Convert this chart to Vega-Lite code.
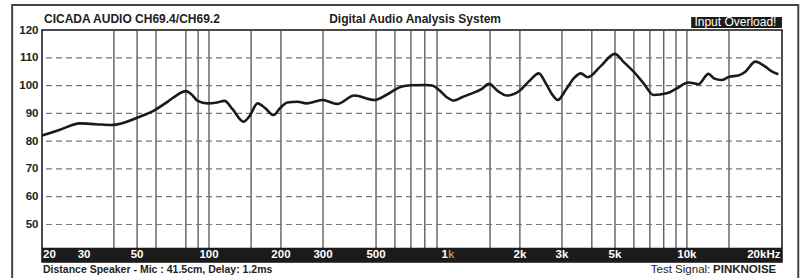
{
  "$schema": "https://vega.github.io/schema/vega-lite/v6.json",
  "width": 740,
  "height": 232,
  "autosize": {"type": "none"},
  "padding": {"left": 42, "top": 30, "right": 22, "bottom": 16},
  "background": "white",
  "config": {
    "view": {"stroke": "#111", "strokeWidth": 1.5},
    "font": "Liberation Sans",
    "axisY": {"labelOverlap": false, "title": null, "grid": false, "domain": false, "ticks": false,
      "labelFont": "Liberation Sans", "labelFontWeight": "bold", "labelFontSize": 11.5, "labelColor": "#222", "labelPadding": 4}
  },
  "datasets": {
    "one": [{}],
    "curve": [
      {"f": 20, "db": 82}, {"f": 23.8, "db": 84.1}, {"f": 28.8, "db": 86.4}, {"f": 33.6, "db": 86.1},
      {"f": 39.2, "db": 85.8}, {"f": 51.3, "db": 88.8}, {"f": 59.3, "db": 91.2}, {"f": 67.2, "db": 94.2},
      {"f": 73.2, "db": 96.5}, {"f": 79.9, "db": 98.0}, {"f": 84.6, "db": 96.8}, {"f": 89.6, "db": 94.5},
      {"f": 98.7, "db": 93.6}, {"f": 106.6, "db": 93.8}, {"f": 116.2, "db": 94.5}, {"f": 125.5, "db": 91.5},
      {"f": 139.5, "db": 87}, {"f": 147.8, "db": 89}, {"f": 159.6, "db": 93.6}, {"f": 172.3, "db": 91.8},
      {"f": 186.1, "db": 89.4}, {"f": 199, "db": 92}, {"f": 212.8, "db": 93.9}, {"f": 234.4, "db": 94.2},
      {"f": 255.6, "db": 93.6}, {"f": 298.2, "db": 94.8}, {"f": 344.4, "db": 93.4}, {"f": 405.5, "db": 96.4},
      {"f": 491.5, "db": 94.8}, {"f": 551.4, "db": 96.6}, {"f": 637, "db": 99.6}, {"f": 701.2, "db": 100.1},
      {"f": 810.2, "db": 100.2}, {"f": 858, "db": 100.0}, {"f": 918, "db": 98.4}, {"f": 981.8, "db": 96.0},
      {"f": 1061, "db": 94.6}, {"f": 1145, "db": 95.8}, {"f": 1261, "db": 97.2}, {"f": 1375, "db": 98.6},
      {"f": 1485, "db": 100.6}, {"f": 1619, "db": 98.0}, {"f": 1765, "db": 96.4}, {"f": 2000, "db": 98.2},
      {"f": 2180, "db": 101.5}, {"f": 2400, "db": 104.4}, {"f": 2568, "db": 100.8}, {"f": 2720, "db": 97},
      {"f": 2882, "db": 94.8}, {"f": 3112, "db": 98.5}, {"f": 3362, "db": 102.6}, {"f": 3596, "db": 104.4},
      {"f": 3844, "db": 103}, {"f": 4358, "db": 107}, {"f": 4986, "db": 111.4}, {"f": 5436, "db": 108.5},
      {"f": 5984, "db": 105}, {"f": 6588, "db": 100.8}, {"f": 7252, "db": 96.6}, {"f": 8220, "db": 97.2},
      {"f": 8962, "db": 98.7}, {"f": 10152, "db": 101.1}, {"f": 11180, "db": 100.5}, {"f": 12306, "db": 104.2},
      {"f": 13038, "db": 102.5}, {"f": 13946, "db": 102}, {"f": 15060, "db": 103.2}, {"f": 16424, "db": 103.6},
      {"f": 17566, "db": 105}, {"f": 19340, "db": 108.6}, {"f": 21288, "db": 106.8}, {"f": 22554, "db": 105.2},
      {"f": 24126, "db": 104.1}
    ],
    "vlines": [
      {"f": 40}, {"f": 50}, {"f": 60}, {"f": 80}, {"f": 90}, {"f": 100}, {"f": 150}, {"f": 200},
      {"f": 300}, {"f": 500}, {"f": 600}, {"f": 700}, {"f": 800}, {"f": 900}, {"f": 1500}, {"f": 2000},
      {"f": 3000}, {"f": 4000}, {"f": 5000}, {"f": 6000}, {"f": 7000}, {"f": 8000}, {"f": 9000},
      {"f": 10000}, {"f": 15000}
    ],
    "hlines": [{"db": 50}, {"db": 60}, {"db": 70}, {"db": 80}, {"db": 90}, {"db": 100}, {"db": 110}],
    "flabels": [
      {"f": 20, "t": "20"}, {"f": 30, "t": "30"}, {"f": 50, "t": "50"}, {"f": 100, "t": "100"},
      {"f": 200, "t": "200"}, {"f": 300, "t": "300"}, {"f": 500, "t": "500"}, {"f": 2000, "t": "2k"},
      {"f": 3000, "t": "3k"}, {"f": 5000, "t": "5k"}, {"f": 10000, "t": "10k"}, {"f": 20000, "t": "20kHz"}
    ]
  },
  "layer": [
    {
      "data": {"name": "vlines"},
      "mark": {"type": "rule", "color": "#444", "strokeWidth": 1.2},
      "encoding": {
        "x": {"field": "f", "type": "quantitative", "scale": {"type": "log", "domain": [20, 25000], "nice": false}, "axis": null}
      }
    },
    {
      "data": {"name": "hlines"},
      "mark": {"type": "rule", "color": "#777", "strokeWidth": 1.2, "strokeDash": [6, 4]},
      "encoding": {
        "y": {"field": "db", "type": "quantitative",
          "scale": {"domain": [36.5, 120], "nice": false, "zero": false},
          "axis": {"labelOverlap": false, "values": [50, 60, 70, 80, 90, 100, 110, 120], "labelFontWeight": "bold"}}
      }
    },
    {
      "data": {"name": "curve"},
      "mark": {"type": "line", "color": "#1a1a1a", "strokeWidth": 2.6, "interpolate": "monotone"},
      "encoding": {
        "x": {"field": "f", "type": "quantitative", "axis": null},
        "y": {"field": "db", "type": "quantitative", "axis": {"labelOverlap": false, "values": [50, 60, 70, 80, 90, 100, 110, 120], "labelFontWeight": "bold"}}
      }
    },
    {
      "data": {"name": "one"},
      "mark": {"type": "rect", "color": "#1b1b1b"},
      "encoding": {
        "x": {"datum": 20, "type": "quantitative", "axis": null},
        "x2": {"datum": 25000},
        "y": {"datum": 41.6, "type": "quantitative", "axis": {"labelOverlap": false, "values": [50, 60, 70, 80, 90, 100, 110, 120], "labelFontWeight": "bold"}},
        "y2": {"datum": 36.5}
      }
    },
    {
      "data": {"name": "flabels"},
      "transform": [{"filter": "datum.t !== '20' && datum.t !== '20kHz'"}],
      "mark": {"type": "text", "color": "white", "font": "Liberation Sans", "fontWeight": "bold", "fontSize": 11.5, "align": "center", "baseline": "middle"},
      "encoding": {
        "x": {"field": "f", "type": "quantitative", "axis": null},
        "y": {"datum": 39, "type": "quantitative", "axis": {"labelOverlap": false, "values": [50, 60, 70, 80, 90, 100, 110, 120], "labelFontWeight": "bold"}},
        "text": {"field": "t"}
      }
    },
    {
      "data": {"name": "flabels"},
      "transform": [{"filter": "datum.t === '20'"}],
      "mark": {"type": "text", "color": "white", "font": "Liberation Sans", "fontWeight": "bold", "fontSize": 11.5, "align": "left", "baseline": "middle", "dx": 1},
      "encoding": {
        "x": {"field": "f", "type": "quantitative", "axis": null},
        "y": {"datum": 39, "type": "quantitative", "axis": {"labelOverlap": false, "values": [50, 60, 70, 80, 90, 100, 110, 120], "labelFontWeight": "bold"}},
        "text": {"field": "t"}
      }
    },
    {
      "data": {"name": "flabels"},
      "transform": [{"filter": "datum.t === '20kHz'"}],
      "mark": {"type": "text", "color": "white", "font": "Liberation Sans", "fontWeight": "bold", "fontSize": 11.5, "align": "center", "baseline": "middle", "dx": 5},
      "encoding": {
        "x": {"field": "f", "type": "quantitative", "axis": null},
        "y": {"datum": 39, "type": "quantitative", "axis": {"labelOverlap": false, "values": [50, 60, 70, 80, 90, 100, 110, 120], "labelFontWeight": "bold"}},
        "text": {"field": "t"}
      }
    },
    {
      "data": {"name": "one"},
      "mark": {"type": "text", "color": "white", "font": "Liberation Sans", "fontWeight": "bold", "fontSize": 11.5, "align": "right", "baseline": "middle"},
      "encoding": {
        "x": {"datum": 1000, "type": "quantitative", "axis": null},
        "y": {"datum": 39, "type": "quantitative", "axis": {"labelOverlap": false, "values": [50, 60, 70, 80, 90, 100, 110, 120], "labelFontWeight": "bold"}},
        "text": {"value": "1"}
      }
    },
    {
      "data": {"name": "one"},
      "mark": {"type": "text", "color": "#c8843c", "font": "Liberation Sans", "fontWeight": "bold", "fontSize": 11.5, "align": "left", "baseline": "middle"},
      "encoding": {
        "x": {"datum": 1000, "type": "quantitative", "axis": null},
        "y": {"datum": 39, "type": "quantitative", "axis": {"labelOverlap": false, "values": [50, 60, 70, 80, 90, 100, 110, 120], "labelFontWeight": "bold"}},
        "text": {"value": "k"}
      }
    },
    {
      "data": {"name": "one"},
      "mark": {"type": "text", "color": "#222", "font": "Liberation Sans", "fontWeight": "bold", "fontSize": 12, "align": "left", "baseline": "middle", "dx": 2},
      "encoding": {
        "x": {"datum": 20, "type": "quantitative", "axis": null},
        "y": {"datum": 124, "type": "quantitative", "axis": {"labelOverlap": false, "values": [50, 60, 70, 80, 90, 100, 110, 120], "labelFontWeight": "bold"}},
        "text": {"value": "CICADA AUDIO CH69.4/CH69.2"}
      }
    },
    {
      "data": {"name": "one"},
      "mark": {"type": "text", "color": "#222", "font": "Liberation Sans", "fontWeight": "bold", "fontSize": 12, "align": "center", "baseline": "middle"},
      "encoding": {
        "x": {"datum": 728.6, "type": "quantitative", "axis": null},
        "y": {"datum": 124, "type": "quantitative", "axis": {"labelOverlap": false, "values": [50, 60, 70, 80, 90, 100, 110, 120], "labelFontWeight": "bold"}},
        "text": {"value": "Digital Audio Analysis System"}
      }
    },
    {
      "data": {"name": "one"},
      "mark": {"type": "rect", "color": "#1b1b1b"},
      "encoding": {
        "x": {"datum": 10422, "type": "quantitative", "axis": null},
        "x2": {"datum": 25000},
        "y": {"datum": 124.7, "type": "quantitative", "axis": {"labelOverlap": false, "values": [50, 60, 70, 80, 90, 100, 110, 120], "labelFontWeight": "bold"}},
        "y2": {"datum": 120.7}
      }
    },
    {
      "data": {"name": "one"},
      "mark": {"type": "text", "color": "white", "font": "Liberation Sans", "fontSize": 12, "align": "center", "baseline": "middle"},
      "encoding": {
        "x": {"datum": 15958, "type": "quantitative", "axis": null},
        "y": {"datum": 122.7, "type": "quantitative", "axis": {"labelOverlap": false, "values": [50, 60, 70, 80, 90, 100, 110, 120], "labelFontWeight": "bold"}},
        "text": {"value": "Input Overload!"}
      }
    },
    {
      "data": {"name": "one"},
      "mark": {"type": "text", "color": "#222", "font": "Liberation Sans", "fontWeight": "bold", "fontSize": 10.5, "align": "left", "baseline": "middle", "dx": 1},
      "encoding": {
        "x": {"datum": 20, "type": "quantitative", "axis": null},
        "y": {"datum": 33.5, "type": "quantitative", "axis": {"labelOverlap": false, "values": [50, 60, 70, 80, 90, 100, 110, 120], "labelFontWeight": "bold"}},
        "text": {"value": "Distance Speaker - Mic : 41.5cm, Delay: 1.2ms"}
      }
    },
    {
      "data": {"name": "one"},
      "mark": {"type": "text", "color": "#222", "font": "Liberation Sans", "fontWeight": "bold", "fontSize": 11.5, "align": "right", "baseline": "middle"},
      "encoding": {
        "x": {"datum": 23660, "type": "quantitative", "axis": null},
        "y": {"datum": 33.5, "type": "quantitative", "axis": {"labelOverlap": false, "values": [50, 60, 70, 80, 90, 100, 110, 120], "labelFontWeight": "bold"}},
        "text": {"value": "PINKNOISE"}
      }
    },
    {
      "data": {"name": "one"},
      "mark": {"type": "text", "color": "#222", "font": "Liberation Sans", "fontSize": 11.5, "align": "right", "baseline": "middle", "dx": -66},
      "encoding": {
        "x": {"datum": 23660, "type": "quantitative", "axis": null},
        "y": {"datum": 33.5, "type": "quantitative", "axis": {"labelOverlap": false, "values": [50, 60, 70, 80, 90, 100, 110, 120], "labelFontWeight": "bold"}},
        "text": {"value": "Test Signal:"}
      }
    },
    {
      "data": {"name": "one"},
      "mark": {"type": "rect", "fill": null, "fillOpacity": 0, "stroke": "#444", "strokeWidth": 2},
      "encoding": {
        "x": {"datum": 15, "type": "quantitative", "axis": null},
        "x2": {"datum": 29240},
        "y": {"datum": 129, "type": "quantitative", "axis": {"labelOverlap": false, "values": [50, 60, 70, 80, 90, 100, 110, 120], "labelFontWeight": "bold"}},
        "y2": {"datum": 26}
      }
    }
  ]
}
